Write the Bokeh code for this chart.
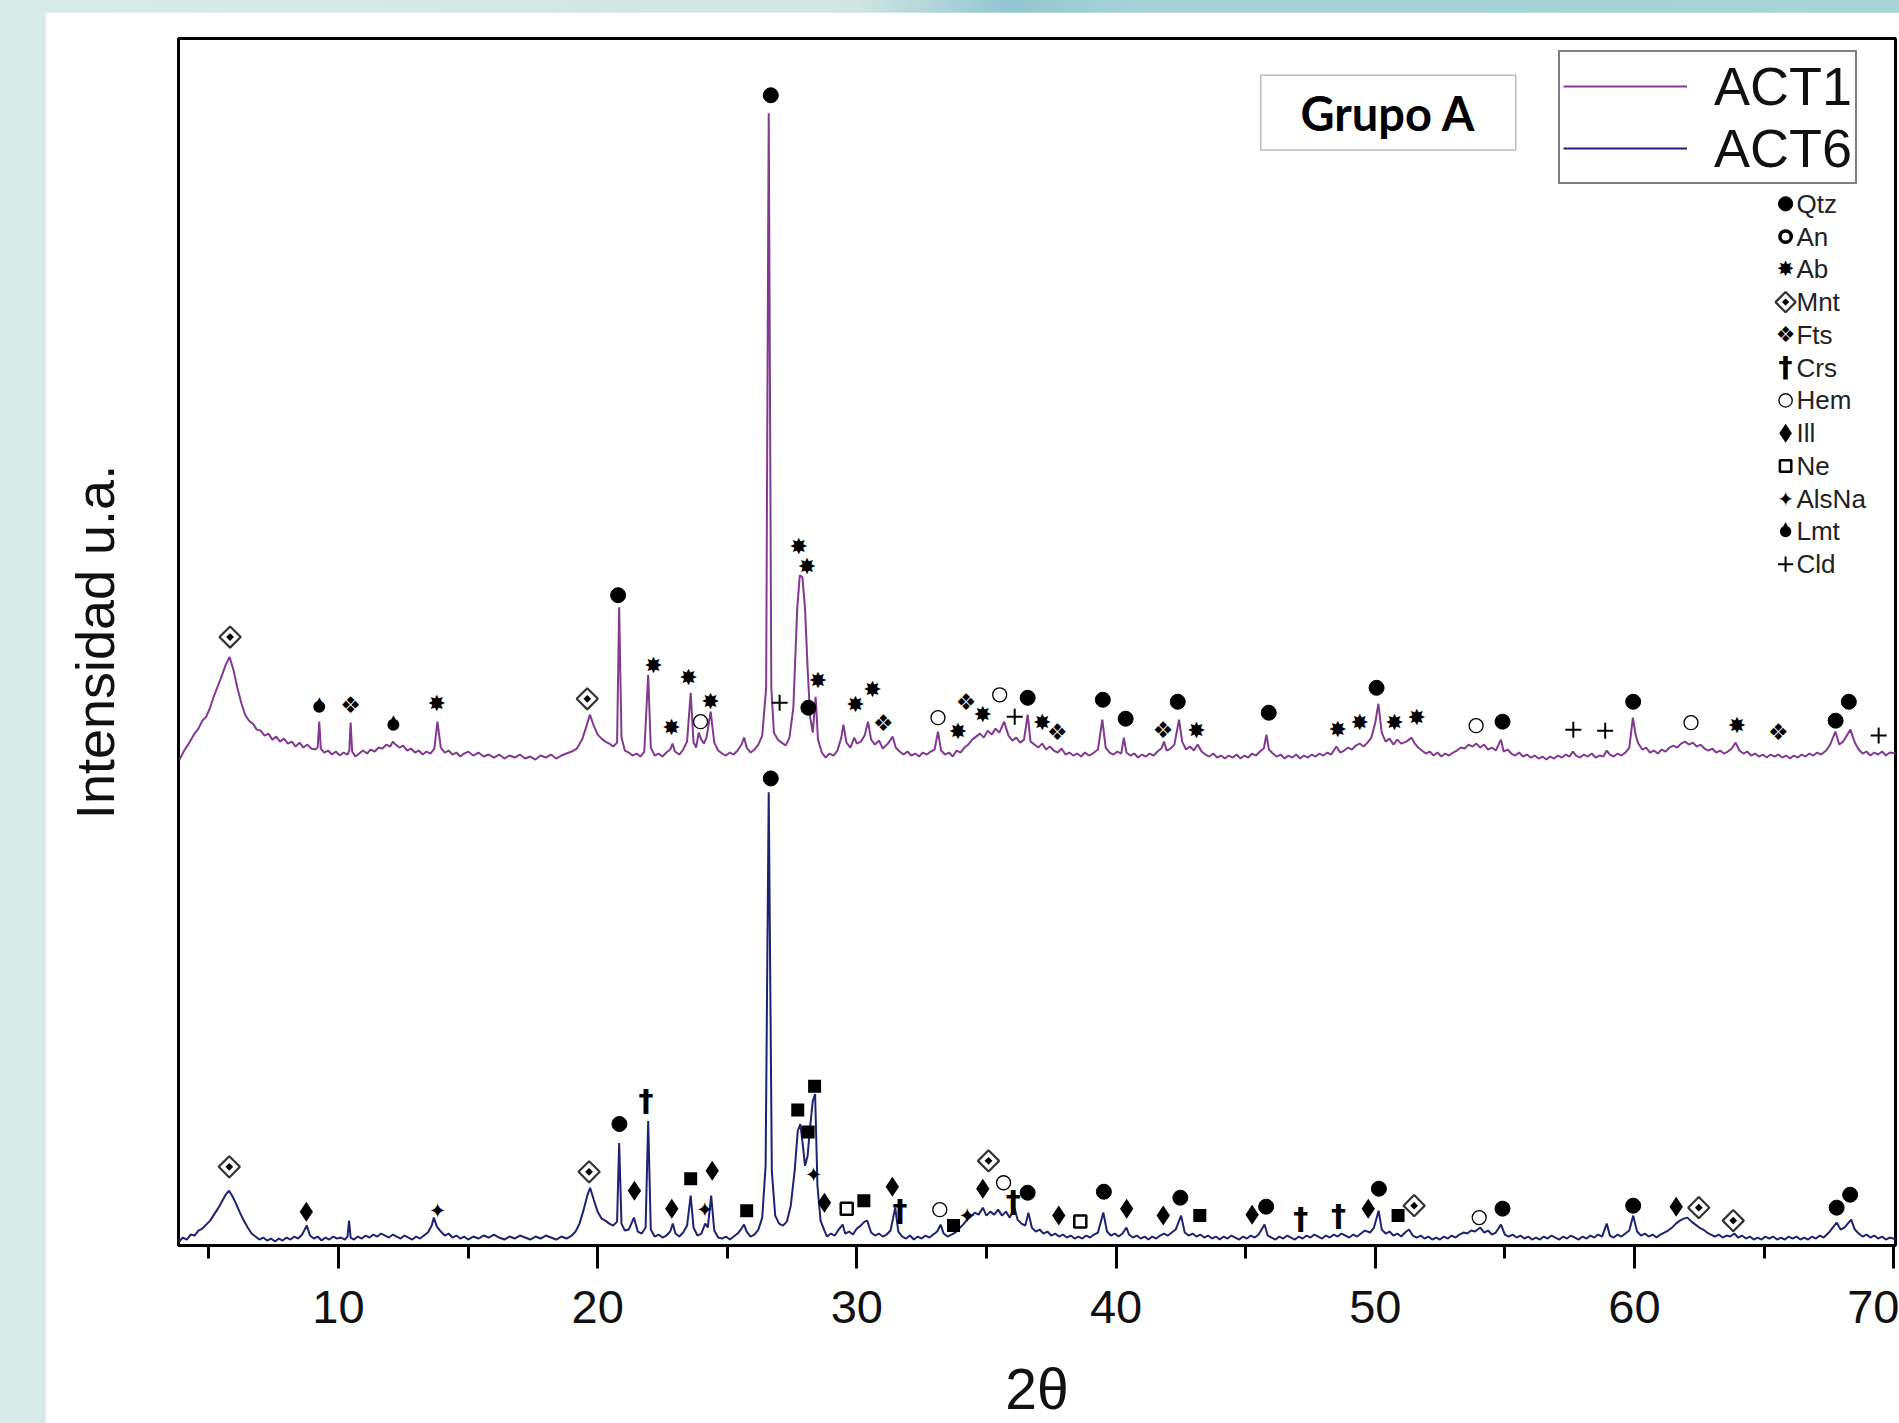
import math
from bokeh.plotting import figure
from bokeh.layouts import column
from bokeh.models import Range1d, FixedTicker, Legend, LegendItem, BoxAnnotation, Label
from bokeh.core.properties import value
from bokeh.embed import file_html
from bokeh.resources import INLINE

# ---------------- data (2theta, intensity in arbitrary units) ----------------
ACT1 = [
    (3.87, 488), (4.05, 497), (4.25, 505), (4.45, 514), (4.6, 519), (4.75, 527), (4.9, 531),
    (5.05, 540), (5.2, 552), (5.35, 562), (5.5, 572), (5.65, 583), (5.8, 591), (5.95, 578),
    (6.1, 560), (6.25, 545), (6.4, 533), (6.55, 527), (6.7, 524), (6.85, 518), (7.0, 517),
    (7.15, 512), (7.3, 514), (7.45, 508), (7.6, 511), (7.75, 506), (7.9, 509), (8.05, 504),
    (8.2, 506), (8.35, 501), (8.5, 505), (8.65, 500), (8.8, 503), (8.95, 499), (9.1, 498),
    (9.2, 500), (9.26, 526), (9.32, 499), (9.45, 495), (9.6, 497), (9.75, 493), (9.9, 496),
    (10.05, 492), (10.2, 495), (10.35, 493), (10.42, 497), (10.47, 525), (10.53, 496),
    (10.65, 491), (10.8, 494), (10.95, 497), (11.1, 494), (11.25, 498), (11.4, 496),
    (11.55, 500), (11.7, 499), (11.85, 503), (12.0, 501), (12.1, 506), (12.2, 503),
    (12.35, 500), (12.5, 502), (12.65, 497), (12.8, 499), (12.95, 495), (13.1, 497),
    (13.25, 493), (13.4, 496), (13.55, 494), (13.7, 499), (13.82, 526), (13.95, 500),
    (14.1, 495), (14.25, 497), (14.4, 493), (14.55, 495), (14.7, 491), (14.85, 494),
    (15.0, 496), (15.2, 492), (15.4, 495), (15.6, 491), (15.8, 493), (16.0, 490), (16.2, 493),
    (16.4, 489), (16.6, 492), (16.8, 490), (17.0, 493), (17.2, 489), (17.4, 491), (17.6, 488),
    (17.8, 492), (18.0, 490), (18.2, 493), (18.4, 489), (18.6, 492), (18.8, 494), (19.0, 496),
    (19.2, 499), (19.4, 508), (19.55, 520), (19.7, 533), (19.85, 522), (20.0, 513),
    (20.15, 509), (20.3, 506), (20.45, 504), (20.6, 501), (20.75, 505), (20.83, 641),
    (20.92, 510), (21.05, 497), (21.2, 495), (21.35, 492), (21.5, 494), (21.65, 491),
    (21.8, 496), (21.95, 573), (22.05, 500), (22.2, 492), (22.35, 494), (22.5, 491),
    (22.65, 495), (22.8, 498), (22.89, 504), (22.98, 496), (23.15, 493), (23.3, 498),
    (23.45, 506), (23.59, 555), (23.7, 505), (23.8, 500), (23.9, 515), (24.0, 508),
    (24.1, 504), (24.2, 510), (24.36, 536), (24.5, 505), (24.65, 497), (24.8, 494),
    (24.95, 492), (25.1, 495), (25.25, 493), (25.4, 497), (25.55, 503), (25.65, 510),
    (25.75, 500), (25.9, 495), (26.05, 498), (26.2, 503), (26.35, 512), (26.5, 560),
    (26.6, 1137), (26.7, 560), (26.8, 515), (26.95, 508), (27.1, 505), (27.25, 502),
    (27.4, 510), (27.55, 540), (27.7, 640), (27.8, 673), (27.9, 671), (28.0, 640),
    (28.1, 580), (28.2, 530), (28.3, 515), (28.41, 551), (28.5, 508), (28.65, 495),
    (28.8, 490), (28.95, 494), (29.1, 492), (29.25, 497), (29.4, 510), (29.48, 523),
    (29.6, 505), (29.75, 500), (29.9, 510), (30.0, 504), (30.15, 506), (30.3, 512),
    (30.43, 526), (30.55, 508), (30.7, 503), (30.86, 507), (31.0, 499), (31.2, 504),
    (31.38, 511), (31.5, 500), (31.65, 496), (31.8, 493), (31.95, 496), (32.1, 492),
    (32.25, 494), (32.4, 491), (32.55, 495), (32.7, 493), (32.85, 496), (33.0, 498),
    (33.13, 516), (33.25, 497), (33.4, 493), (33.55, 495), (33.7, 491), (33.85, 497),
    (34.0, 495), (34.15, 500), (34.3, 503), (34.45, 508), (34.6, 511), (34.75, 514),
    (34.9, 510), (35.05, 517), (35.2, 513), (35.35, 519), (35.5, 515), (35.68, 526),
    (35.85, 512), (36.0, 507), (36.15, 510), (36.3, 505), (36.45, 508), (36.59, 533),
    (36.7, 506), (36.85, 503), (37.0, 500), (37.15, 504), (37.3, 498), (37.45, 501),
    (37.6, 497), (37.75, 495), (37.9, 499), (38.05, 493), (38.2, 495), (38.35, 492),
    (38.5, 494), (38.65, 491), (38.8, 495), (38.95, 492), (39.1, 494), (39.3, 498),
    (39.47, 528), (39.6, 500), (39.75, 495), (39.9, 493), (40.05, 496), (40.2, 494),
    (40.3, 510), (40.4, 495), (40.55, 492), (40.7, 494), (40.85, 490), (41.0, 493),
    (41.15, 491), (41.3, 494), (41.45, 492), (41.6, 496), (41.75, 499), (41.85, 506),
    (41.95, 497), (42.1, 499), (42.25, 503), (42.43, 528), (42.55, 506), (42.7, 498),
    (42.85, 501), (43.0, 497), (43.15, 503), (43.3, 496), (43.45, 493), (43.6, 491),
    (43.75, 494), (43.9, 490), (44.05, 492), (44.2, 489), (44.35, 492), (44.5, 490),
    (44.65, 493), (44.8, 489), (44.95, 492), (45.1, 490), (45.25, 494), (45.4, 492),
    (45.55, 496), (45.7, 499), (45.8, 513), (45.9, 498), (46.05, 494), (46.2, 491),
    (46.35, 493), (46.5, 489), (46.65, 492), (46.8, 490), (46.95, 493), (47.1, 489),
    (47.25, 492), (47.4, 490), (47.55, 493), (47.7, 491), (47.85, 494), (48.0, 492),
    (48.15, 495), (48.3, 493), (48.5, 501), (48.65, 495), (48.8, 497), (48.95, 500),
    (49.1, 498), (49.25, 502), (49.4, 504), (49.55, 501), (49.7, 505), (49.85, 510),
    (50.0, 525), (50.12, 544), (50.25, 515), (50.4, 506), (50.55, 509), (50.7, 503),
    (50.85, 508), (51.0, 504), (51.2, 506), (51.4, 510), (51.5, 505), (51.65, 500),
    (51.8, 497), (51.95, 494), (52.1, 496), (52.25, 492), (52.4, 495), (52.55, 491),
    (52.7, 494), (52.85, 492), (53.0, 495), (53.15, 497), (53.3, 500), (53.45, 499),
    (53.6, 503), (53.75, 501), (53.9, 504), (54.05, 500), (54.2, 503), (54.35, 498),
    (54.5, 500), (54.65, 497), (54.85, 508), (54.95, 496), (55.1, 498), (55.25, 494),
    (55.4, 492), (55.55, 495), (55.7, 491), (55.85, 493), (56.0, 490), (56.15, 492),
    (56.3, 489), (56.45, 491), (56.6, 488), (56.75, 491), (56.9, 489), (57.05, 492),
    (57.2, 490), (57.35, 493), (57.5, 491), (57.62, 496), (57.75, 492), (57.9, 490),
    (58.05, 493), (58.2, 491), (58.35, 494), (58.5, 490), (58.65, 492), (58.8, 491),
    (58.93, 497), (59.05, 493), (59.2, 491), (59.35, 494), (59.5, 492), (59.65, 495),
    (59.8, 500), (59.94, 530), (60.05, 512), (60.15, 504), (60.3, 498), (60.45, 500),
    (60.6, 495), (60.75, 497), (60.9, 494), (61.05, 498), (61.2, 496), (61.35, 500),
    (61.5, 502), (61.65, 500), (61.8, 504), (61.95, 506), (62.1, 503), (62.25, 505),
    (62.4, 501), (62.55, 503), (62.7, 499), (62.85, 497), (63.0, 499), (63.15, 495),
    (63.3, 497), (63.45, 494), (63.6, 496), (63.75, 499), (63.9, 505), (64.05, 497),
    (64.2, 494), (64.35, 496), (64.5, 492), (64.65, 494), (64.8, 491), (64.95, 493),
    (65.1, 490), (65.25, 493), (65.4, 491), (65.55, 493), (65.7, 490), (65.85, 492),
    (66.0, 489), (66.15, 492), (66.3, 490), (66.45, 493), (66.6, 491), (66.75, 494),
    (66.9, 492), (67.05, 495), (67.2, 493), (67.4, 497), (67.55, 503), (67.75, 516),
    (67.9, 503), (68.05, 506), (68.33, 518), (68.5, 505), (68.65, 498), (68.8, 494),
    (68.95, 496), (69.1, 492), (69.25, 495), (69.4, 493), (69.55, 496), (69.7, 492),
    (69.85, 495), (70.1, 494),
]

ACT6 = [
    (3.86, 4), (4.0, 8), (4.15, 6), (4.3, 11), (4.45, 10), (4.6, 15), (4.75, 17), (4.9, 21),
    (5.05, 25), (5.2, 31), (5.35, 37), (5.5, 44), (5.65, 51), (5.78, 55), (5.9, 50),
    (6.05, 42), (6.2, 33), (6.35, 25), (6.5, 18), (6.65, 12), (6.8, 9), (6.95, 6), (7.1, 8),
    (7.25, 5), (7.4, 7), (7.55, 4), (7.7, 7), (7.85, 5), (8.0, 8), (8.15, 6), (8.3, 9),
    (8.45, 7), (8.6, 11), (8.78, 20), (8.9, 10), (9.05, 7), (9.2, 9), (9.35, 5), (9.5, 8),
    (9.65, 6), (9.8, 9), (9.95, 7), (10.1, 8), (10.25, 6), (10.35, 9), (10.41, 25),
    (10.47, 8), (10.6, 6), (10.75, 9), (10.9, 7), (11.05, 10), (11.2, 8), (11.35, 11),
    (11.5, 9), (11.65, 12), (11.8, 10), (11.95, 8), (12.1, 11), (12.25, 9), (12.4, 7),
    (12.55, 10), (12.7, 8), (12.85, 6), (13.0, 9), (13.15, 7), (13.3, 10), (13.45, 13),
    (13.6, 20), (13.68, 28), (13.8, 19), (13.95, 14), (14.1, 10), (14.25, 12), (14.4, 8),
    (14.55, 10), (14.7, 7), (14.85, 9), (15.0, 6), (15.2, 9), (15.4, 7), (15.6, 10),
    (15.8, 8), (16.0, 11), (16.2, 8), (16.4, 6), (16.6, 9), (16.8, 7), (17.0, 10), (17.2, 8),
    (17.4, 6), (17.6, 9), (17.8, 7), (18.0, 10), (18.2, 8), (18.4, 6), (18.6, 9), (18.8, 7),
    (19.0, 10), (19.15, 14), (19.3, 22), (19.45, 35), (19.6, 50), (19.71, 58), (19.85, 46),
    (20.0, 34), (20.15, 27), (20.3, 25), (20.45, 22), (20.6, 20), (20.75, 24), (20.83, 103),
    (20.92, 22), (21.05, 15), (21.2, 16), (21.4, 28), (21.55, 14), (21.7, 12), (21.85, 18),
    (21.95, 125), (22.05, 16), (22.2, 9), (22.35, 11), (22.5, 8), (22.65, 10), (22.8, 14),
    (22.9, 22), (23.0, 12), (23.15, 9), (23.3, 13), (23.45, 20), (23.59, 50), (23.7, 18),
    (23.85, 10), (24.0, 12), (24.15, 22), (24.25, 18), (24.38, 50), (24.5, 15), (24.65, 8),
    (24.8, 7), (24.95, 9), (25.1, 6), (25.25, 9), (25.4, 12), (25.55, 17), (25.65, 21),
    (25.75, 14), (25.9, 9), (26.05, 11), (26.2, 16), (26.35, 28), (26.48, 80), (26.6, 455),
    (26.72, 75), (26.85, 30), (27.0, 22), (27.15, 20), (27.3, 24), (27.45, 40), (27.6, 75),
    (27.72, 115), (27.82, 122), (27.92, 100), (28.0, 80), (28.1, 90), (28.2, 120),
    (28.3, 145), (28.39, 152), (28.48, 60), (28.6, 25), (28.75, 15), (28.85, 9), (29.0, 12),
    (29.15, 10), (29.3, 16), (29.45, 21), (29.55, 12), (29.7, 14), (29.85, 11), (30.0, 17),
    (30.15, 20), (30.3, 24), (30.4, 25), (30.55, 13), (30.7, 10), (30.85, 12), (31.0, 9),
    (31.15, 11), (31.3, 15), (31.48, 38), (31.6, 14), (31.75, 9), (31.9, 7), (32.05, 10),
    (32.2, 6), (32.35, 9), (32.5, 7), (32.65, 10), (32.8, 8), (32.95, 11), (33.1, 14),
    (33.23, 21), (33.35, 12), (33.5, 9), (33.65, 11), (33.8, 13), (33.95, 17), (34.1, 21),
    (34.25, 26), (34.4, 29), (34.55, 33), (34.7, 31), (34.86, 38), (35.0, 30), (35.15, 34),
    (35.3, 31), (35.45, 36), (35.6, 30), (35.75, 34), (35.9, 28), (36.08, 38), (36.2, 26),
    (36.35, 22), (36.5, 20), (36.62, 33), (36.75, 18), (36.9, 14), (37.05, 16), (37.2, 12),
    (37.35, 14), (37.5, 10), (37.65, 12), (37.8, 9), (37.95, 11), (38.1, 8), (38.25, 10),
    (38.4, 7), (38.55, 9), (38.7, 7), (38.85, 10), (39.0, 8), (39.15, 11), (39.3, 13),
    (39.51, 33), (39.65, 14), (39.8, 10), (39.95, 12), (40.1, 9), (40.25, 12), (40.4, 18),
    (40.5, 11), (40.65, 8), (40.8, 10), (40.95, 7), (41.1, 9), (41.25, 6), (41.4, 9),
    (41.55, 7), (41.7, 10), (41.85, 12), (42.0, 10), (42.15, 13), (42.3, 16), (42.51, 30),
    (42.65, 13), (42.8, 10), (42.95, 12), (43.1, 9), (43.25, 11), (43.4, 8), (43.55, 10),
    (43.7, 7), (43.85, 9), (44.0, 6), (44.15, 9), (44.3, 7), (44.45, 10), (44.6, 8),
    (44.75, 6), (44.9, 9), (45.05, 7), (45.2, 10), (45.35, 8), (45.5, 11), (45.73, 21),
    (45.85, 10), (46.0, 8), (46.15, 6), (46.3, 9), (46.45, 7), (46.6, 10), (46.75, 8),
    (46.9, 6), (47.05, 9), (47.2, 7), (47.35, 10), (47.5, 8), (47.65, 11), (47.8, 9),
    (47.95, 7), (48.1, 10), (48.25, 8), (48.4, 11), (48.55, 9), (48.7, 12), (48.85, 10),
    (49.0, 8), (49.15, 11), (49.3, 9), (49.45, 12), (49.6, 15), (49.8, 13), (49.95, 18),
    (50.13, 35), (50.25, 16), (50.4, 12), (50.55, 14), (50.7, 10), (50.85, 12), (51.0, 9),
    (51.15, 13), (51.3, 16), (51.45, 10), (51.6, 8), (51.75, 10), (51.9, 7), (52.05, 9),
    (52.2, 6), (52.35, 8), (52.5, 6), (52.65, 9), (52.8, 7), (52.95, 10), (53.1, 8),
    (53.25, 11), (53.4, 13), (53.55, 12), (53.7, 15), (53.85, 14), (54.05, 18), (54.2, 13),
    (54.35, 15), (54.5, 11), (54.65, 13), (54.85, 21), (55.0, 11), (55.15, 9), (55.3, 11),
    (55.45, 8), (55.6, 10), (55.75, 7), (55.9, 9), (56.05, 6), (56.2, 8), (56.35, 6),
    (56.5, 9), (56.65, 7), (56.8, 10), (56.95, 8), (57.1, 6), (57.25, 9), (57.4, 7),
    (57.55, 10), (57.7, 8), (57.85, 6), (58.0, 9), (58.15, 7), (58.3, 10), (58.45, 8),
    (58.6, 11), (58.75, 9), (58.93, 22), (59.05, 10), (59.2, 8), (59.35, 11), (59.5, 9),
    (59.65, 12), (59.8, 15), (59.95, 30), (60.1, 14), (60.25, 10), (60.4, 12), (60.55, 9),
    (60.7, 11), (60.85, 8), (61.0, 11), (61.15, 13), (61.3, 15), (61.45, 18), (61.6, 22),
    (61.75, 25), (61.9, 27), (62.04, 28), (62.2, 24), (62.35, 21), (62.5, 18), (62.65, 16),
    (62.8, 13), (62.95, 11), (63.1, 9), (63.25, 11), (63.4, 8), (63.55, 10), (63.7, 9),
    (63.85, 12), (64.0, 8), (64.15, 10), (64.3, 7), (64.45, 9), (64.6, 6), (64.75, 8),
    (64.9, 6), (65.05, 9), (65.2, 7), (65.35, 9), (65.5, 6), (65.65, 8), (65.8, 6),
    (65.95, 9), (66.1, 7), (66.25, 9), (66.4, 6), (66.55, 8), (66.7, 6), (66.85, 9),
    (67.0, 7), (67.15, 10), (67.3, 8), (67.5, 13), (67.65, 18), (67.8, 23), (67.95, 16),
    (68.1, 18), (68.36, 26), (68.5, 16), (68.65, 12), (68.8, 9), (68.95, 11), (69.1, 8),
    (69.25, 10), (69.4, 7), (69.55, 9), (69.7, 6), (69.85, 8), (70.1, 6),
]

# mineral marks (2theta, height of the mark)
QTZ = [(20.79, 653), (26.68, 1155), (28.13, 540), (36.59, 550), (39.49, 548), (40.37, 529),
       (42.38, 546), (45.89, 535), (50.05, 560), (54.91, 526), (59.95, 546), (67.76, 527),
       (68.27, 546),
       (20.84, 122), (26.68, 469), (36.59, 53), (39.53, 54), (42.48, 48), (45.79, 39),
       (50.14, 57), (54.91, 37), (59.95, 40), (67.8, 38), (68.32, 51)]
AB = [(13.79, 544), (22.15, 582), (22.85, 520), (23.5, 570), (24.35, 546), (27.76, 702),
      (28.08, 682), (28.5, 567), (29.95, 543), (30.6, 558), (33.9, 516), (34.86, 533),
      (37.15, 525), (43.1, 517), (48.55, 518), (49.4, 525), (50.74, 525), (51.6, 530),
      (63.95, 522)]
MNT = [(5.82, 611), (19.6, 549),
       (5.79, 79), (19.67, 74), (35.08, 85), (51.5, 40), (62.48, 38), (63.81, 25)]
FTS = [(10.47, 543), (31.02, 525), (34.21, 546), (37.73, 516), (41.81, 518), (65.55, 516)]
CRS = [(21.87, 146), (31.66, 35), (36.03, 44), (47.13, 27), (48.58, 30)]
HEM = [(23.97, 526), (33.13, 530), (35.51, 553), (53.89, 522), (62.18, 525),
       (33.2, 36), (35.66, 63), (54.01, 28)]
ILL = [(8.76, 34), (21.42, 55), (22.86, 37), (24.42, 75), (28.75, 43), (31.37, 59),
       (34.86, 57), (37.79, 30), (40.41, 37), (41.82, 30), (45.25, 31), (49.73, 37),
       (61.61, 39)]
NE = [(29.61, 37), (38.62, 24)]
SQ = [(23.59, 67), (25.75, 35), (27.72, 136), (28.12, 114), (28.37, 160), (30.27, 45),
      (33.73, 20), (43.23, 30), (50.88, 30)]
ALSNA = [(13.82, 35), (24.13, 36), (28.33, 71), (34.26, 30)]
LMT = [(9.26, 541), (12.12, 523)]
CLD = [(27.02, 545), (36.09, 531), (57.64, 518), (58.87, 517), (69.42, 512)]

MINERALS = ["Qtz", "An", "Ab", "Mnt", "Fts", "Crs", "Hem", "Ill", "Ne", "AlsNa", "Lmt", "Cld"]
SERIES = ["ACT1", "ACT6"]
XTICKS = [10, 20, 30, 40, 50, 60, 70]
XMINOR = [5, 15, 25, 35, 45, 55, 65]

# ---------------- figure ----------------
FONT = "Liberation Sans"
p = figure(width=1854, height=1411, x_range=Range1d(3.83, 70.07), y_range=Range1d(0, 1212),
           output_backend="svg", toolbar_location=None,
           min_border_left=133, min_border_right=4, min_border_top=26, min_border_bottom=173)
p.margin = (12, 0, 0, 45)
p.grid.visible = False
p.background_fill_color = "white"
p.border_fill_color = "white"
p.outline_line_color = "black"
p.outline_line_width = 3

xa = p.xaxis[0]
xa.ticker = FixedTicker(ticks=XTICKS, minor_ticks=XMINOR)
xa.axis_line_width = 3
xa.axis_line_color = "black"
xa.major_tick_out = 23
xa.major_tick_in = 0
xa.minor_tick_out = 13
xa.minor_tick_in = 0
xa.major_tick_line_width = 3
xa.minor_tick_line_width = 3
xa.major_tick_line_color = "black"
xa.minor_tick_line_color = "black"
xa.major_label_text_font = FONT
xa.major_label_text_font_size = "47px"
xa.major_label_text_color = "#111111"
xa.major_label_standoff = 22
xa.axis_label = "2θ"
xa.axis_label_text_font = FONT
xa.axis_label_text_font_size = "57px"
xa.axis_label_text_font_style = "normal"
xa.axis_label_text_color = "#111111"
xa.axis_label_standoff = 31

ya = p.yaxis[0]
ya.ticker = FixedTicker(ticks=[])
ya.axis_line_color = None
ya.major_tick_out = 0
ya.major_tick_in = 0
ya.minor_tick_out = 0
ya.minor_tick_in = 0
ya.major_label_standoff = 0
ya.axis_label = "Intensidad u.a."
ya.axis_label_text_font = FONT
ya.axis_label_text_font_size = "54px"
ya.axis_label_text_font_style = "normal"
ya.axis_label_text_color = "#111111"
ya.axis_label_standoff = 54

# spectra
r1 = p.line([a for a, b in ACT1], [b for a, b in ACT1], line_color="#823a90", line_width=2)
r6 = p.line([a for a, b in ACT6], [b for a, b in ACT6], line_color="#1d2272", line_width=2)


def txt(xs, ys, ch, size, font="DejaVu Sans", style="normal", yoff=0):
    p.text(x=list(xs), y=list(ys), text=[ch] * len(xs), text_font=value(font),
           text_font_size=size, text_font_style=style, text_align="center",
           text_baseline="middle", text_color="black", y_offset=yoff)


def draw(kind, xs, ys, k=1.0):
    xs = list(xs)
    ys = list(ys)
    if kind == "Qtz":
        p.scatter(xs, ys, marker="circle", size=15 * k, fill_color="black", line_color="black")
    elif kind == "An":
        p.scatter(xs, ys, marker="circle", size=12 * k, fill_color="white", line_color="black",
                  line_width=3.5)
    elif kind == "Ab":
        txt(xs, ys, "✸", "%dpx" % round(22 * k))
    elif kind == "Mnt":
        p.scatter(xs, ys, marker="square", size=15 * k, angle=math.pi / 4, fill_color="white",
                  line_color="#333333", line_width=2.2)
        p.scatter(xs, ys, marker="square", size=5.5 * k, angle=math.pi / 4, fill_color="black",
                  line_color=None)
    elif kind == "Fts":
        txt(xs, ys, "❖", "%dpx" % round(23 * k))
    elif kind == "Crs":
        txt(xs, ys, "†", "%dpx" % round(30 * k), font="DejaVu Sans", style="bold")
    elif kind == "Hem":
        p.scatter(xs, ys, marker="circle", size=14 * k, fill_color="white", line_color="black",
                  line_width=1.3)
    elif kind == "Ill":
        p.scatter(xs, ys, marker="diamond", size=20 * k, fill_color="black", line_color=None)
    elif kind == "Ne":
        p.scatter(xs, ys, marker="square", size=12 * k, fill_color="white", line_color="black",
                  line_width=2.5)
    elif kind == "Sq":
        p.scatter(xs, ys, marker="square", size=13 * k, fill_color="black", line_color=None)
    elif kind == "AlsNa":
        txt(xs, ys, "✦", "%dpx" % round(21 * k))
    elif kind == "Lmt":
        p.scatter(xs, ys, marker="circle", size=12 * k, fill_color="black", line_color=None)
        txt(xs, ys, "▲", "%dpx" % round(12 * k), yoff=-6 * k)
    elif kind == "Cld":
        p.scatter(xs, ys, marker="cross", size=16 * k, line_color="black", line_width=2)


MARKS = {"Qtz": QTZ, "Ab": AB, "Mnt": MNT, "Fts": FTS, "Crs": CRS, "Hem": HEM, "Ill": ILL,
         "Ne": NE, "Sq": SQ, "AlsNa": ALSNA, "Lmt": LMT, "Cld": CLD}
for kind, pts in MARKS.items():
    draw(kind, [a for a, b in pts], [b for a, b in pts])

# mineral key (layout positions)
LEG_X, LEG_Y0, LEG_DY = 65.83, 1046, 32.9
for i, name in enumerate(MINERALS):
    draw(name, [LEG_X], [LEG_Y0 - i * LEG_DY], k=0.95)
p.text(x=[LEG_X + 0.42] * len(MINERALS), y=[LEG_Y0 - i * LEG_DY for i in range(len(MINERALS))],
       text=MINERALS, text_font=value(FONT), text_font_size="26px", text_color="#222222",
       text_align="left", text_baseline="middle")

# series legend
leg = Legend(items=[LegendItem(label=SERIES[0], renderers=[r1]),
                    LegendItem(label=SERIES[1], renderers=[r6])],
             location=(1380, 1061), orientation="vertical", margin=0, padding=3, spacing=0,
             glyph_width=124, glyph_height=40, label_standoff=27,
             label_text_font=FONT, label_text_font_size="54px", label_text_color="#111111",
             border_line_color="black", border_line_width=2, background_fill_color="white",
             background_fill_alpha=1.0)
p.add_layout(leg)

# "Grupo A" box
p.add_layout(BoxAnnotation(left=45.58, right=55.42, bottom=1100, top=1175, fill_color="white",
                           fill_alpha=1.0, line_color="#222222", line_width=1.5))
p.add_layout(Label(x=50.5, y=1137.5, text="Grupo A", text_font="Lato", text_font_style="bold",
                   text_font_size="47px", text_align="center", text_baseline="middle",
                   text_color="black"))

page = column(p, styles={"background": "linear-gradient(90deg, #d8ebe7 0%, #d0e6e1 45%, "
                                        "#93c6d2 53%, #a6d3d6 60%, #a8d4d6 100%)"})

open("out.html", "w").write(file_html(page, INLINE))
